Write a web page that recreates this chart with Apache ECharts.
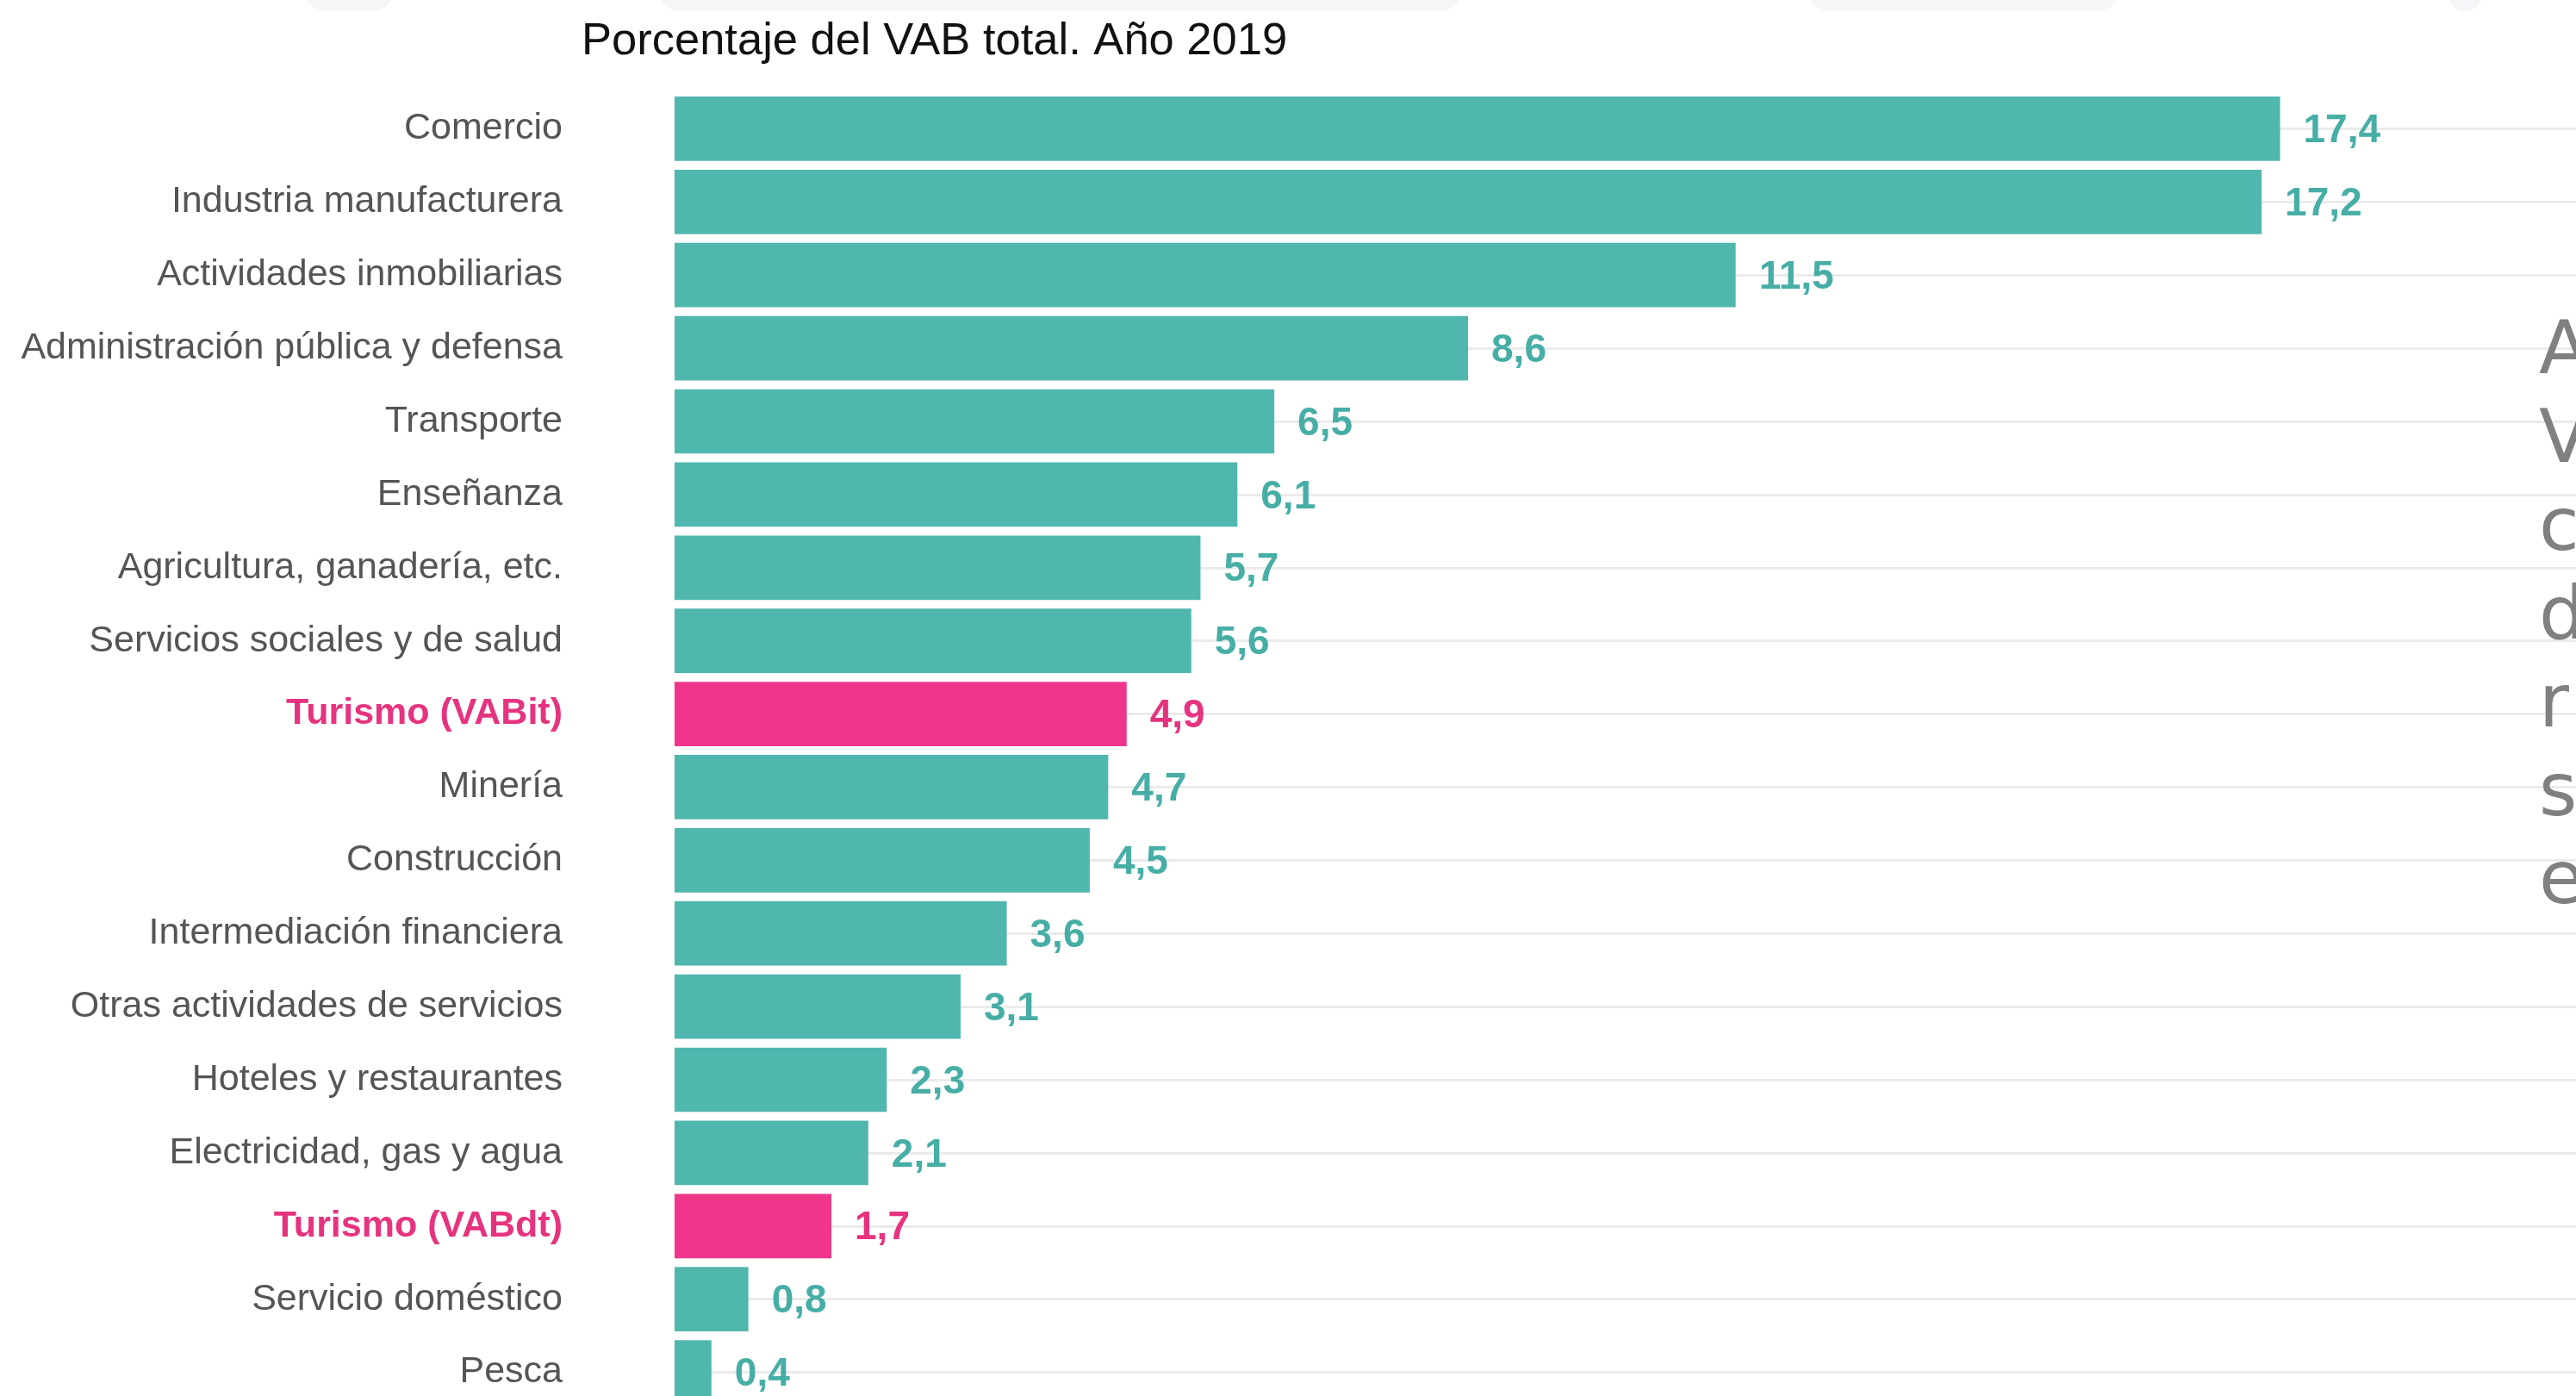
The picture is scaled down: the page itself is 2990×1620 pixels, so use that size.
<!DOCTYPE html>
<html>
<head>
<meta charset="utf-8">
<title>Porcentaje del VAB total. Año 2019</title>
<script src="https://cdn.jsdelivr.net/npm/echarts@6/dist/echarts.min.js"></script>
<style>
  html, body { margin: 0; padding: 0; background: #fff; }
  #chart { width: 2990px; height: 1620px; }
</style>
</head>
<body>
<div id="chart"></div>
<script>
  var categories = [
    'Comercio', 'Industria manufacturera', 'Actividades inmobiliarias',
    'Administración pública y defensa', 'Transporte', 'Enseñanza',
    'Agricultura, ganadería, etc.', 'Servicios sociales y de salud',
    'Turismo (VABit)', 'Minería', 'Construcción', 'Intermediación financiera',
    'Otras actividades de servicios', 'Hoteles y restaurantes',
    'Electricidad, gas y agua', 'Turismo (VABdt)', 'Servicio doméstico', 'Pesca'
  ];
  var values = [17.4, 17.2, 11.5, 8.6, 6.5, 6.1, 5.7, 5.6, 4.9, 4.7, 4.5, 3.6, 3.1, 2.3, 2.1, 1.7, 0.8, 0.4];
  var highlighted = ['Turismo (VABit)', 'Turismo (VABdt)'];
  // texto lateral cortado por el borde derecho de la captura
  var sideLetters = ['A', 'V', 'c', 'd', 'r', 's', 'e'];

  var TEAL = '#50b7ae', TEAL_TEXT = '#47aea6';
  var PINK = '#f0368a', PINK_TEXT = '#e6337f';

  function isHi(name) { return highlighted.indexOf(name) >= 0; }
  function fmt(v) { return v.toFixed(1).replace('.', ','); }

  var chart = echarts.init(document.getElementById('chart'));

  var graphics = [];
  // formas grises muy tenues en el borde superior
  [[353, 105], [763, 934], [2098, 362], [2841, 40]].forEach(function (s) {
    graphics.push({
      type: 'rect', silent: true,
      shape: { x: s[0], y: -40, width: s[1], height: 53, r: 26 },
      style: { fill: '#f6f6f8' }
    });
  });
  sideLetters.forEach(function (ch, i) {
    graphics.push({
      type: 'text', silent: true, z: 10,
      x: 2947, y: 411 + i * 102.5,
      style: {
        text: ch, fill: '#808080',
        font: '85px "DejaVu Sans"',
        verticalAlign: 'middle', align: 'left'
      }
    });
  });

  chart.setOption({
    animation: false,
    backgroundColor: '#ffffff',
    title: {
      text: 'Porcentaje del VAB total. Año 2019',
      left: 670, top: 16,
      textStyle: { fontFamily: 'Liberation Sans', fontSize: 52.5, fontWeight: 'normal', color: '#111', lineHeight: 56 }
    },
    grid: {
      left: 675, top: 107, height: 1528, right: 0,
      containLabel: false, outerBoundsMode: 'none'
    },
    xAxis: {
      type: 'value', min: -1.008, max: 20.607, show: false,
      splitLine: { show: false }
    },
    yAxis: {
      type: 'category', data: categories, inverse: true,
      axisLine: { show: false },
      axisTick: {
        show: true, inside: true, alignWithLabel: true, length: 2315,
        lineStyle: { color: '#ebebeb', width: 3 }
      },
      splitLine: { show: false },
      axisLabel: {
        margin: 22,
        fontFamily: 'Liberation Sans', fontSize: 43, color: '#555',
        formatter: function (v) { return isHi(v) ? '{hi|' + v + '}' : v; },
        rich: {
          hi: { fontFamily: 'Liberation Sans', fontSize: 43, fontWeight: 'bold', color: PINK_TEXT }
        }
      }
    },
    series: [{
      type: 'bar',
      barCategoryGap: '12%',
      data: values.map(function (v, i) {
        var hi = isHi(categories[i]);
        return {
          value: v,
          itemStyle: { color: hi ? PINK : TEAL },
          label: { color: hi ? PINK_TEXT : TEAL_TEXT }
        };
      }),
      label: {
        show: true, position: 'right', distance: 27, offset: [0, 3],
        fontFamily: 'Liberation Sans', fontSize: 46, fontWeight: 'bold',
        formatter: function (p) { return fmt(p.value); }
      }
    }],
    graphic: graphics
  });
</script>
</body>
</html>
